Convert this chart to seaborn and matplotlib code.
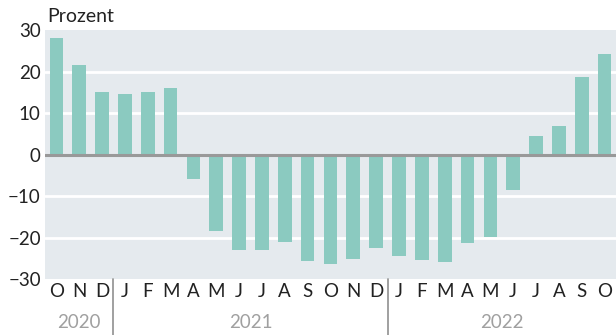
import matplotlib
matplotlib.use("Agg")
import matplotlib.pyplot as plt
import matplotlib.transforms as mtransforms
import seaborn as sns
import pandas as pd

# Monthly change in percent, October 2020 to October 2022
periods = ["2020-10", "2020-11", "2020-12",
           "2021-01", "2021-02", "2021-03", "2021-04", "2021-05", "2021-06",
           "2021-07", "2021-08", "2021-09", "2021-10", "2021-11", "2021-12",
           "2022-01", "2022-02", "2022-03", "2022-04", "2022-05", "2022-06",
           "2022-07", "2022-08", "2022-09", "2022-10"]
month_labels = ["O", "N", "D",
                "J", "F", "M", "A", "M", "J", "J", "A", "S", "O", "N", "D",
                "J", "F", "M", "A", "M", "J", "J", "A", "S", "O"]
values = [28.1, 21.5, 15.2,
          14.5, 15.0, 16.0, -5.9, -18.3, -22.9, -23.1, -21.0, -25.7, -26.4, -25.2, -22.6,
          -24.5, -25.5, -26.0, -21.4, -19.8, -8.6, 4.6, 6.8, 18.6, 24.2]
years = ["2020", "2021", "2022"]
year_spans = [(0, 2), (3, 14), (15, 24)]

df = pd.DataFrame({"period": periods, "value": values})

sns.set_theme(style="white")
plt.rcParams["font.family"] = ["Lato", "DejaVu Sans"]

fig = plt.figure(figsize=(6.16, 3.35), dpi=100)
ax = fig.add_axes([0.073, 0.167, 0.927, 0.743])
ax.set_facecolor("#E5EAEE")

sns.barplot(data=df, x="period", y="value", order=periods, color="#8BCAC0",
            saturation=1, width=0.6, linewidth=0, edgecolor="none", ax=ax, zorder=3)

ax.set_xlim(-0.5, 24.5)
ax.set_ylim(-30, 30)
ax.set_yticks([-30, -20, -10, 0, 10, 20, 30])
ax.set_yticklabels(["\u221230", "\u221220", "\u221210", "0", "10", "20", "30"])
for y in (-20, -10, 10, 20):
    ax.axhline(y, color="white", lw=2, zorder=1)
ax.axhline(0, color="#999999", lw=2.2, zorder=4)

ax.set_xticks(range(len(periods)))
ax.set_xticklabels(month_labels)
ax.tick_params(axis="x", length=0, pad=3, labelsize=13.5, colors="#222222")
ax.tick_params(axis="y", length=0, pad=3, labelsize=13.5, colors="#222222")
ax.set_xlabel("")
ax.set_ylabel("")
for s in ax.spines.values():
    s.set_visible(False)

trans = mtransforms.blended_transform_factory(ax.transData, ax.transAxes)
for name, (a, b) in zip(years, year_spans):
    ax.text((a + b) / 2, -0.175, name, transform=trans, ha="center", va="center",
            fontsize=13.5, color="#A0A0A0")
for xs in (2.5, 14.5):
    ax.plot([xs, xs], [0, -0.23], transform=trans, color="#999999", lw=1.3,
            clip_on=False)

fig.text(0.076, 0.95, "Prozent", ha="left", va="center", fontsize=14,
         color="#222222")

fig.savefig("out.png", dpi=100)
